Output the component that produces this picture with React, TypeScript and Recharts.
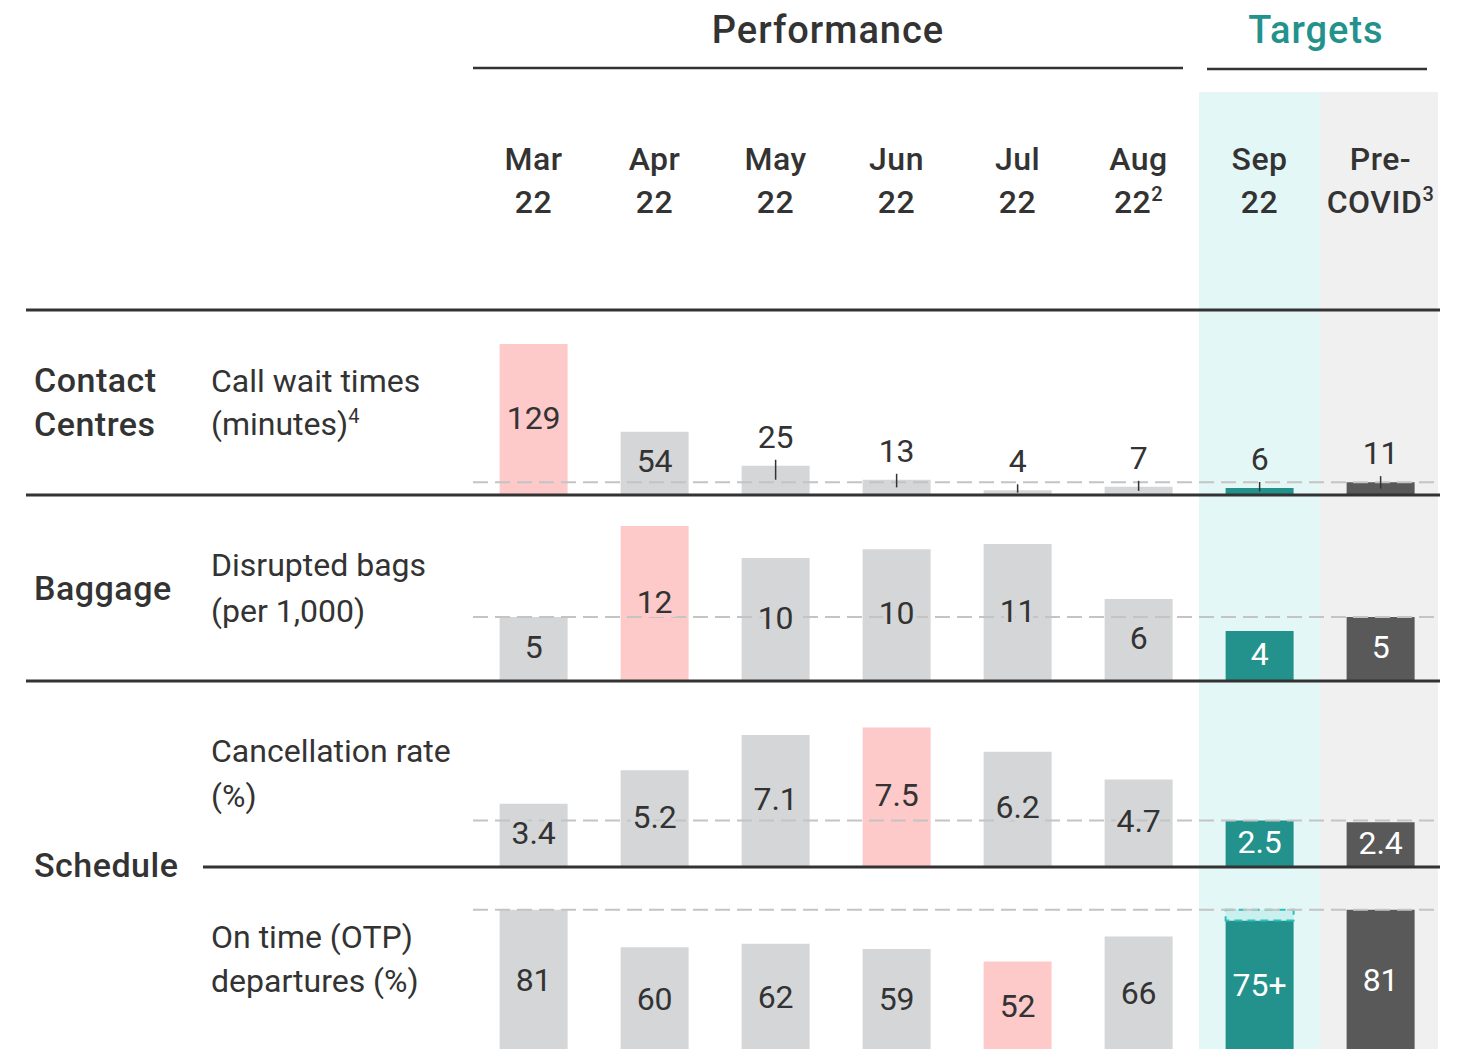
import React from "react"
import { BarChart, Bar, XAxis, YAxis, Cell, LabelList, ReferenceLine } from "recharts"

// column headers
const headTop = ["Mar", "Apr", "May", "Jun", "Jul", "Aug", "Sep", "Pre-"]
const headBottom = ["22", "22", "22", "22", "22", "22", "22", "COVID"]
const headSup = ["", "", "", "", "", "2", "", "3"]
const months = ["Mar 22", "Apr 22", "May 22", "Jun 22", "Jul 22", "Aug 22", "Sep 22", "Pre-COVID"]

// row values and the printed labels
const callWait = [129, 54, 25, 13, 4, 7, 6, 11]
const callWaitLabels = ["129", "54", "25", "13", "4", "7", "6", "11"]
const bags = [5, 12.1, 9.6, 10.3, 10.7, 6.4, 3.9, 5]
const bagsLabels = ["5", "12", "10", "10", "11", "6", "4", "5"]
const cancel = [3.4, 5.2, 7.1, 7.5, 6.2, 4.7, 2.5, 2.4]
const cancelLabels = ["3.4", "5.2", "7.1", "7.5", "6.2", "4.7", "2.5", "2.4"]
const otp = [81, 60, 62, 59, 52, 66, 75, 81]
const otpPlus = [0, 0, 0, 0, 0, 0, 6, 0]
const otpLabels = ["81", "60", "62", "59", "52", "66", "75+", "81"]

// reference (dashed) levels and the worst month per row
const refLevels = [11, 5, 2.5, 81]
const worstIndex = [0, 1, 3, 4]

const GREY = "#d5d6d8"
const PINK = "#fdc9c9"
const TEAL = "#23928c"
const DARK = "#595959"
const INK = "#333333"
const FONT = "Roboto, 'Noto Sans', sans-serif"

const LEFT = 473
const COL_W = 121
const CHART_W = COL_W * 8

const barColor = (i: number, worst: number) => {
  if (i === 6) return TEAL
  if (i === 7) return DARK
  if (i === worst) return PINK
  return GREY
}

const makeData = (values: number[], labels: string[], plus?: number[]) =>
  months.map((m, i) => ({ key: m, value: values[i], label: labels[i], plus: plus ? plus[i] : 0 }))

const makeLabel = (worst: number) => (props: any) => {
  const vb = props.viewBox || {}
  const x = props.x ?? vb.x
  const y = props.y ?? vb.y
  const width = props.width ?? vb.width
  const height = props.height ?? vb.height
  const i = props.index
  const cx = x + width / 2
  const fill = barColor(i, worst)
  if (height < 40) {
    return (
      <g>
        <text x={cx} y={y - 18} textAnchor="middle" fontSize={32} fontFamily={FONT} fill={INK}>
          {props.value}
        </text>
        <line x1={cx} x2={cx} y1={y - 6} y2={y + Math.min(14, height * 0.5)} stroke={INK} strokeWidth={1.5} />
      </g>
    )
  }
  const white = i === 6 || i === 7
  return (
    <text
      x={cx}
      y={y + height / 2 - 2}
      textAnchor="middle"
      dominantBaseline="central"
      fontSize={32}
      fontFamily={FONT}
      fill={white ? "#ffffff" : INK}
      stroke={fill}
      strokeWidth={8}
      paintOrder="stroke"
    >
      {props.value}
    </text>
  )
}

const HeaderTick = (props: any) => {
  const { x, y, payload } = props
  const i = months.indexOf(payload.value)
  return (
    <g fontFamily={FONT} fontSize={32} fontWeight={500} fill={INK}>
      <text x={x} y={y - 62} textAnchor="middle" letterSpacing={0.5}>
        {headTop[i]}
      </text>
      <text x={x} y={y - 19} textAnchor="middle" letterSpacing={0.5}>
        {headBottom[i]}
        {headSup[i] && (
          <tspan dy={-12} fontSize={20}>
            {headSup[i]}
          </tspan>
        )}
      </text>
    </g>
  )
}

interface RowProps {
  data: any[]
  top: number
  height: number
  domainMax: number
  row: number
  header?: boolean
  withPlus?: boolean
}

function RowChart({ data, top, height, domainMax, row, header, withPlus }: RowProps) {
  const worst = worstIndex[row]
  return (
    <div style={{ position: "absolute", left: LEFT, top, width: CHART_W, height }}>
      <BarChart
        width={CHART_W}
        height={height}
        data={data}
        margin={{ top: 0, right: 0, bottom: 0, left: 0 }}
        barCategoryGap="22%"
      >
        {header ? (
          <XAxis
            dataKey="key"
            orientation="top"
            height={140}
            axisLine={false}
            tickLine={false}
            tickSize={0}
            tickMargin={0}
            interval={0}
            tick={<HeaderTick />}
          />
        ) : (
          <XAxis dataKey="key" hide />
        )}
        <YAxis hide type="number" domain={[0, domainMax]} allowDataOverflow />
        <Bar dataKey="value" stackId="a" isAnimationActive={false}>
          {data.map((_, i) => (
            <Cell key={i} fill={barColor(i, worst)} />
          ))}
          <LabelList dataKey="label" content={makeLabel(worst)} />
        </Bar>
        {withPlus && (
          <Bar
            dataKey="plus"
            stackId="a"
            fill="#c9efee"
            stroke="#2cc0b8"
            strokeWidth={2}
            strokeDasharray="8 5"
            isAnimationActive={false}
          />
        )}
        <ReferenceLine y={refLevels[row]} stroke="#c4c4c4" strokeWidth={2} strokeDasharray="15 7" />
      </BarChart>
    </div>
  )
}

const hLines = [
  { y: 68, x1: 473, x2: 1183 },
  { y: 69, x1: 1207, x2: 1427 },
  { y: 310, x1: 26, x2: 1440 },
  { y: 495, x1: 26, x2: 1440 },
  { y: 681, x1: 26, x2: 1440 },
  { y: 867, x1: 203, x2: 1440 },
]

export default function App() {
  return (
    <div
      style={{
        position: "absolute",
        left: 0,
        top: 0,
        width: 1465,
        height: 1049,
        overflow: "hidden",
        background: "#ffffff",
        fontFamily: FONT,
      }}
    >
      <div style={{ position: "absolute", left: LEFT + COL_W * 6, top: 92, width: COL_W, height: 960, background: "#e4f7f7" }} />
      <div style={{ position: "absolute", left: LEFT + COL_W * 7, top: 92, width: COL_W - 3, height: 960, background: "#f0f0f0" }} />

      <RowChart data={makeData(callWait, callWaitLabels)} top={92} height={403} domainMax={263 / 1.17} row={0} header />
      <RowChart data={makeData(bags, bagsLabels)} top={495} height={186} domainMax={186 / 12.8} row={1} />
      <RowChart data={makeData(cancel, cancelLabels)} top={681} height={186} domainMax={10} row={2} />
      <RowChart data={makeData(otp, otpLabels, otpPlus)} top={867} height={187} domainMax={187 / 1.78} row={3} withPlus />

      <svg width={1465} height={1049} style={{ position: "absolute", left: 0, top: 0, pointerEvents: "none" }}>
        {hLines.map((l, i) => (
          <line key={i} x1={l.x1} x2={l.x2} y1={l.y} y2={l.y} stroke={INK} strokeWidth={i < 2 ? 2.5 : 3} />
        ))}
        <g fontFamily={FONT} fontSize={38} fontWeight={500} letterSpacing={1}>
          <text x={828} y={43} textAnchor="middle" fill={INK}>Performance</text>
          <text x={1316} y={43} textAnchor="middle" fill={TEAL}>Targets</text>
        </g>
        <g fontFamily={FONT} fontSize={34} fontWeight={500} fill={INK} letterSpacing={0.5}>
          <text x={34} y={392}>Contact</text>
          <text x={34} y={436}>Centres</text>
          <text x={34} y={600}>Baggage</text>
          <text x={34} y={877}>Schedule</text>
        </g>
        <g fontFamily={FONT} fontSize={32} fill={INK}>
          <text x={211} y={392}>Call wait times</text>
          <text x={211} y={435}>
            (minutes)<tspan dy={-12} fontSize={20}>4</tspan>
          </text>
          <text x={211} y={576}>Disrupted bags</text>
          <text x={211} y={622}>(per 1,000)</text>
          <text x={211} y={762}>Cancellation rate</text>
          <text x={211} y={807}>(%)</text>
          <text x={211} y={948}>On time (OTP)</text>
          <text x={211} y={992}>departures (%)</text>
        </g>
      </svg>
    </div>
  )
}
